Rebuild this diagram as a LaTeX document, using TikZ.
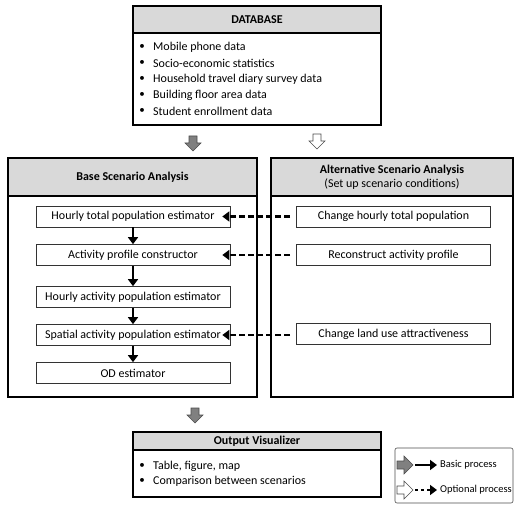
\documentclass[tikz,border=0pt]{standalone}
\usepackage{fontspec}
\setmainfont{Carlito}
\usetikzlibrary{arrows.meta,calc}
\begin{document}
\begin{tikzpicture}[x=1pt,y=-1pt,
  frame/.style={draw=black,line width=1.3pt},
  hdr/.style={draw=black,line width=1.3pt,fill=black!15},
  inbox/.style={draw=black!80,line width=0.7pt,minimum width=194pt,minimum height=21pt,inner sep=0pt,font=\fontsize{12}{14}\selectfont},
  solidarr/.style={-{Triangle[length=7pt,width=10pt]},line width=2pt},
  dasharr/.style={-{Triangle[length=7pt,width=10pt]},line width=2.8pt,dash pattern=on 6pt off 3pt},
  txt/.style={font=\fontsize{12}{14}\selectfont,inner sep=0pt,anchor=west},
  htxt/.style={font=\bfseries\fontsize{12}{14}\selectfont,inner sep=0pt},
  blk/.style={draw=black!70,line width=0.6pt}
]
\useasboundingbox (0,0) rectangle (514,505);
% Database
\draw[hdr] (133,6) rectangle (381,33);
\draw[frame] (133,33) rectangle (381,125);
\node[htxt] (dbh) at (257,19.5) {DATABASE};
\foreach \t [count=\i] in {Mobile phone data,Socio-economic statistics,Household travel diary survey data,Building floor area data,Student enrollment data}{
  \node[inner sep=0pt] at (142,{47+16*(\i-1)}) {\fontsize{11}{12}\selectfont\textbullet};
  \node[txt] at (153,{47+16*(\i-1)}) {\t};
}
% block arrows top
\newcommand{\blockdown}[3]{% x, ytop, fill
  \draw[blk,fill=#3] (#1-4,#2) -- (#1+4,#2) -- (#1+4,#2+7) -- (#1+8,#2+7) -- (#1,#2+15) -- (#1-8,#2+7) -- (#1-4,#2+7) -- cycle;}
\blockdown{193}{136}{black!50}
\blockdown{317}{134}{white}
% Base scenario
\draw[hdr] (8,158) rectangle (257,196);
\draw[frame] (8,196) rectangle (257,397);
\node[htxt] (bh) at (132.5,177) {Base Scenario Analysis};
% Alt scenario
\draw[hdr] (271,158) rectangle (513,196);
\draw[frame] (271,196) rectangle (513,397);
\node[htxt,align=center] (ah) at (392,177) {Alternative Scenario Analysis\\\mdseries(Set up scenario conditions)};
% inner boxes
\node[inbox] (b1) at (133,216.5) {Hourly total population estimator};
\node[inbox] (b2) at (133,255) {Activity profile constructor};
\node[inbox] (b3) at (133,297) {Hourly activity population estimator};
\node[inbox] (b4) at (133,335) {Spatial activity population estimator};
\node[inbox] (b5) at (133,373) {OD estimator};
\node[inbox] (a1) at (393.5,216.5) {Change hourly total population};
\node[inbox] (a2) at (393.5,255) {Reconstruct activity profile};
\node[inbox] (a3) at (393.5,334) {Change land use attractiveness};
\draw[solidarr] (b1) -- (b2);
\draw[solidarr] (b2) -- (b3);
\draw[solidarr] (b3) -- (b4);
\draw[solidarr] (b4) -- (b5);
\draw[dasharr] ([xshift=-6pt]a1.west) -- ([xshift=-8pt]b1.east);
\draw[dasharr] ([xshift=-6pt]a2.west) -- ([xshift=-8pt]b2.east);
\draw[dasharr] ([xshift=-6pt]a3.west|-b4.east) -- ([xshift=-8pt]b4.east);
% bottom arrow
\blockdown{195}{408}{black!50}
% Output
\draw[hdr] (133,432) rectangle (381,450);
\draw[frame] (133,450) rectangle (381,497);
\node[htxt] (oh) at (257,441) {Output Visualizer};
\node[inner sep=0pt] at (142,466) {\fontsize{11}{12}\selectfont\textbullet};
\node[txt] at (153,466) {Table, figure, map};
\node[inner sep=0pt] at (142,481) {\fontsize{11}{12}\selectfont\textbullet};
\node[txt] at (153,481) {Comparison between scenarios};
% Legend
\draw[draw=black!70,line width=0.6pt,rounded corners=2pt] (395,448) rectangle (513,503);
\draw[blk,fill=black!50] (397,461) -- (404,461) -- (404,456) -- (413,465) -- (404,474) -- (404,469) -- (397,469) -- cycle;
\coordinate (l1s) at (415,465); \coordinate (l1e) at (437,465);
\draw[solidarr] (l1s) -- (l1e);
\node[txt,font=\fontsize{10.5}{12}\selectfont] at (440,465) {Basic process};
\draw[blk,fill=white] (397,486) -- (404,486) -- (404,481) -- (413,490) -- (404,499) -- (404,494) -- (397,494) -- cycle;
\coordinate (l2s) at (415,490); \coordinate (l2e) at (437,490);
\draw[dasharr,line width=2.4pt,dash pattern=on 3pt off 3pt] (l2s) -- (l2e);
\node[txt,font=\fontsize{10.5}{12}\selectfont] at (440,490) {Optional process};
\end{tikzpicture}
\end{document}
